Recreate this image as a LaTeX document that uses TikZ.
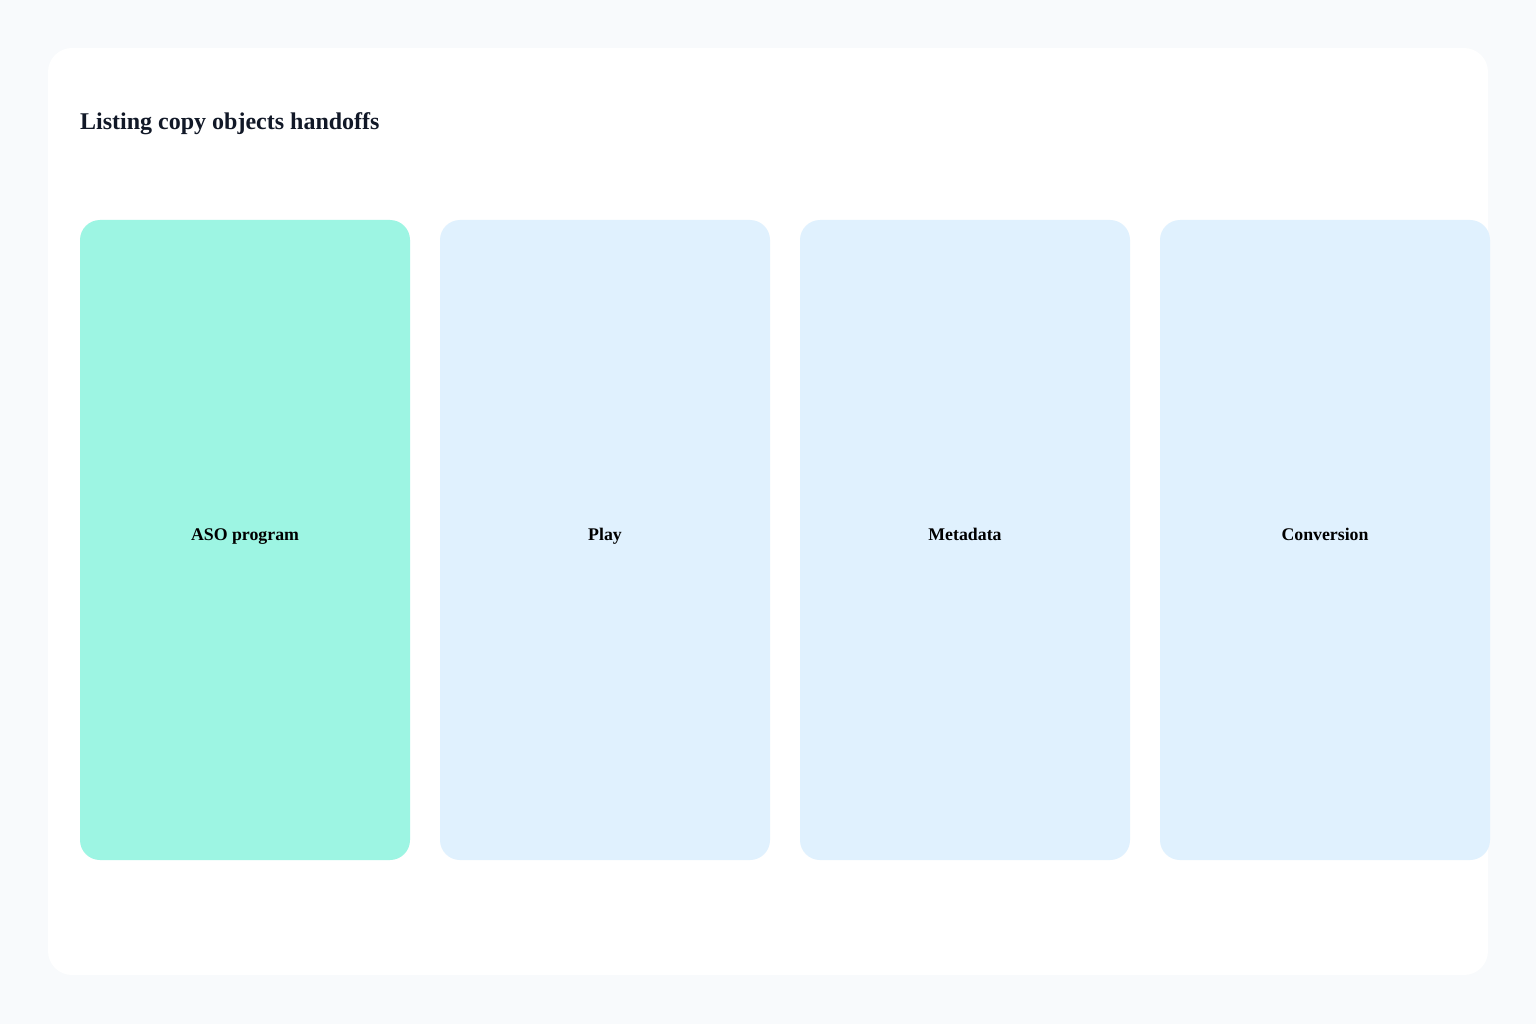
\documentclass[tikz,border=0pt]{standalone}
\usepackage{fontspec}
\setmainfont{Liberation Serif}
\usepackage{tikz}
\usetikzlibrary{positioning}

\definecolor{pagebg}{HTML}{F8FAFC}
\definecolor{titleink}{HTML}{111827}
\definecolor{tealfill}{HTML}{9DF5E3}
\definecolor{bluefill}{HTML}{E0F1FE}

\tikzset{
  panel/.style={rounded corners=20pt, minimum width=330pt, minimum height=640pt,
    inner sep=0pt, text height=5pt, text depth=5pt,
    font=\bfseries\fontsize{17.8}{20}\selectfont, text=black},
}

\begin{document}
\begin{tikzpicture}[x=1pt,y=-1pt]
\fill[pagebg] (0,0) rectangle (1536,1024);
\useasboundingbox (0,0) rectangle (1536,1024);
\fill[white, rounded corners=24pt] (48,48) rectangle (1488,975);

\node[anchor=base west, text=titleink, font=\bfseries\fontsize{24}{28}\selectfont, inner sep=0pt] (title) at (80,130) {Listing copy objects handoffs};

	\node[panel, fill=tealfill] (aso) at (245,540) {ASO program};
	\node[panel, fill=bluefill] (play) at (605,540) {Play};
	\node[panel, fill=bluefill] (meta) at (965,540) {Metadata};
	\node[panel, fill=bluefill] (conv) at (1325,540) {Conversion};
\end{tikzpicture}
\end{document}
